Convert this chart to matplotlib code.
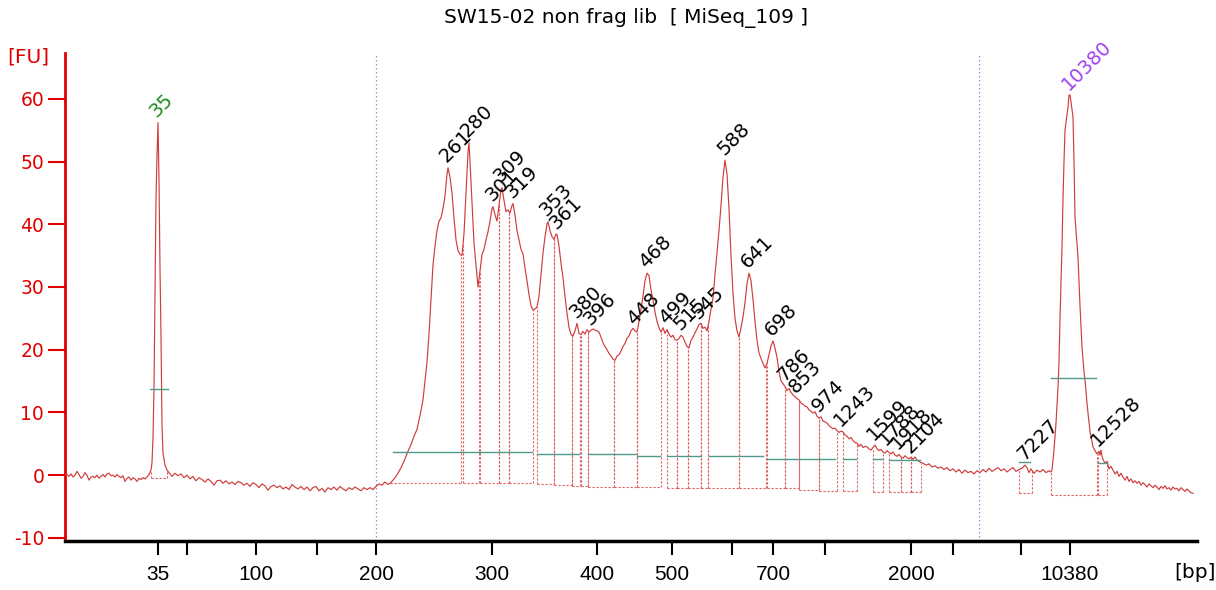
import numpy as np
import matplotlib
matplotlib.use("Agg")
import matplotlib.pyplot as plt

plt.rcParams['axes.unicode_minus'] = False

# ---------------- data (x = migration scan position, y = fluorescence FU) -------------
title = "SW15-02 non frag lib  [ MiSeq_109 ]"

ladder_bp = [35, 50, 100, 150, 200, 300, 400, 500, 600, 700, 1000, 2000, 3000, 7000, 10380]
ladder_pos = [158, 187, 256, 317, 376, 492, 597, 672, 732, 773, 825, 911, 953, 1021, 1070]
ladder_shown = [35, 100, 200, 300, 400, 500, 700, 2000, 10380]

region_bounds = [376, 979]

trace_baseline_left = [
    (65, 0.0), (67, 0.1), (69, -0.2), (71, 0.2), (73, -0.3), (75, 0.0), (77, 0.6), (79, 0.1),
    (81, -0.5), (83, -0.2), (85, 0.4), (87, 0.0), (89, -0.8), (91, -0.3), (93, -0.2), (95, -0.4),
    (97, 0.0), (99, -0.5), (101, -0.2), (103, 0.1), (105, -0.3), (107, 0.2), (109, 0.3), (111, -0.1),
    (113, 0.0), (115, -0.3), (117, 0.1), (119, -0.2), (121, -0.4), (123, -0.1), (125, -1.0), (127, -0.5),
    (129, -0.3), (131, -0.8), (133, -0.4), (135, -0.6), (137, -1.0), (139, -0.5), (141, -0.7), (143, -0.4),
    (145, -0.6), (147, -0.3), (149, 0.1),
]
trace_marker_low = [
    (151, 0.8), (152, 2.0), (153, 6.0), (154, 13.8), (155, 29.0), (156, 44.0), (157, 51.0), (158, 56.2),
    (159, 47.0), (160, 33.0), (161, 22.0), (162, 8.0), (163, 3.5), (164, 2.5), (165, 1.6), (167, 0.8),
]
trace_baseline_mid = [
    (169, 0.4), (172, -0.2), (175, 0.3), (178, -0.1), (181, 0.2), (184, -0.4), (187, 0.0), (190, -0.6),
    (193, -0.2), (196, -0.9), (199, -0.4), (202, -0.7), (205, -1.1), (208, -0.6), (211, -1.0), (214, -1.6),
    (217, -0.9), (220, -0.8), (223, -1.3), (226, -0.9), (229, -1.4), (232, -1.1), (235, -1.5), (238, -1.0),
    (241, -1.2), (244, -1.6), (247, -1.3), (250, -1.8), (253, -1.2), (256, -1.5), (259, -2.0), (262, -1.4),
    (265, -1.7), (268, -2.4), (271, -1.8), (274, -1.6), (277, -2.0), (280, -1.7), (283, -2.2), (286, -1.9),
    (289, -2.3), (292, -1.5), (295, -1.9), (298, -2.2), (301, -1.8), (304, -2.3), (307, -1.9), (310, -2.5),
    (313, -2.0), (316, -1.8), (319, -2.5), (322, -2.1), (325, -2.7), (328, -2.0), (331, -2.3), (334, -1.9),
    (337, -2.4), (340, -1.8), (343, -2.2), (346, -2.5), (349, -2.0), (352, -2.3), (355, -1.9), (358, -2.2),
    (361, -2.5), (364, -2.0), (367, -2.3), (370, -2.0), (373, -2.3), (376, -1.8), (379, -1.4), (382, -1.6),
    (385, -1.1), (388, -1.5),
]
trace_smear = [
    (390, -1.3), (393, -0.8), (396, -0.2), (399, 0.6), (402, 1.5), (405, 2.6), (408, 3.8), (411, 4.9),
    (414, 6.2), (417, 7.3), (420, 9.5), (423, 12.0), (425, 15.0), (427, 18.0), (429, 22.5), (431, 28.0),
    (433, 33.5), (435, 36.5), (437, 39.0), (439, 40.5), (441, 41.0), (443, 42.5), (445, 44.5), (447, 48.0),
    (448, 49.0), (450, 47.5), (452, 45.0), (454, 41.0), (456, 37.5), (458, 35.8), (460, 35.2), (462, 35.0),
    (464, 38.5), (466, 45.0), (468, 51.5), (469, 53.0), (470, 50.0), (472, 43.5), (474, 37.0), (476, 33.5),
    (478, 30.0), (480, 32.5), (482, 35.2), (484, 36.0), (486, 37.5), (488, 38.8), (490, 40.5), (492, 42.5),
    (493, 42.8), (495, 41.5), (497, 40.5), (499, 43.0), (501, 45.5), (502, 45.8), (504, 43.8), (506, 42.0),
    (508, 42.3), (510, 41.8), (512, 43.0), (513, 43.3), (515, 41.5), (517, 39.0), (519, 37.5), (521, 36.0),
    (523, 35.3), (525, 33.0), (527, 31.0), (529, 28.8), (531, 27.0), (533, 26.3), (535, 26.5), (537, 26.8),
    (539, 28.5), (541, 32.0), (543, 35.4), (545, 38.0), (547, 40.0), (548, 40.4), (550, 39.0), (552, 38.0),
    (554, 37.6), (556, 38.4), (557, 38.4), (559, 36.5), (561, 33.8), (563, 31.5), (565, 28.5), (567, 25.8),
    (569, 23.6), (571, 22.4), (573, 22.2), (575, 23.0), (577, 24.2), (579, 22.6), (581, 22.4), (583, 22.9),
    (585, 22.5), (587, 23.2), (589, 22.8), (591, 23.1), (593, 23.3), (595, 23.1), (597, 23.0), (599, 22.8),
    (601, 22.0), (603, 21.1), (605, 20.5), (607, 20.0), (609, 19.4), (611, 19.0), (613, 18.5), (615, 18.3),
    (617, 19.0), (619, 19.2), (621, 19.8), (623, 20.5), (625, 21.0), (627, 21.8), (629, 22.2), (631, 23.0),
    (633, 23.4), (635, 23.0), (637, 22.8), (639, 24.5), (641, 26.5), (643, 28.5), (645, 31.0), (647, 32.2),
    (649, 31.8), (651, 29.5), (653, 28.0), (655, 26.0), (657, 24.5), (659, 23.5), (661, 22.8), (663, 23.5),
    (665, 22.6), (667, 23.2), (669, 22.5), (671, 22.0), (673, 22.3), (675, 21.6), (677, 21.5), (679, 21.8),
    (681, 22.3), (683, 22.0), (685, 21.2), (687, 20.5), (689, 20.3), (691, 21.5), (693, 22.0), (695, 22.7),
    (697, 23.3), (699, 24.0), (701, 24.2), (703, 23.4), (705, 23.6), (707, 23.0), (709, 24.5), (711, 26.5),
    (713, 28.2), (715, 32.0), (717, 35.5), (719, 39.0), (721, 43.0), (723, 47.5), (725, 50.2), (727, 48.0),
    (729, 42.5), (731, 35.0), (733, 29.0), (735, 25.0), (737, 23.0), (739, 22.0), (741, 23.5), (743, 25.2),
    (745, 27.5), (747, 30.5), (749, 32.2), (751, 31.0), (753, 28.0), (755, 24.5), (757, 21.5), (759, 19.5),
    (761, 18.6), (763, 17.8), (765, 17.1), (767, 17.8), (769, 19.2), (771, 20.6), (773, 21.4), (775, 20.2),
    (777, 18.8), (779, 16.5), (781, 15.0), (783, 14.6), (785, 14.1), (787, 13.5), (789, 13.8), (791, 13.2),
    (793, 12.8), (795, 12.5), (797, 12.2), (799, 12.0), (801, 11.5), (803, 11.3), (805, 11.0), (807, 10.9),
    (809, 10.4), (811, 10.2), (813, 9.9), (815, 10.1), (817, 9.4), (819, 9.1), (821, 9.3), (823, 8.6),
    (825, 8.5), (827, 8.3), (829, 7.9), (831, 7.6), (833, 7.4), (835, 7.5), (837, 7.1), (839, 6.8),
    (841, 7.0), (843, 6.9), (845, 6.4), (847, 6.2), (849, 5.8), (851, 6.0), (853, 5.5), (855, 5.2),
    (857, 5.1), (859, 4.6), (861, 4.9), (863, 4.4), (865, 4.6), (867, 4.5), (869, 4.2), (871, 4.0),
    (873, 4.4), (875, 4.8), (877, 4.2), (879, 3.9), (881, 4.1), (883, 3.7), (885, 3.5), (887, 3.9),
    (889, 3.6), (891, 3.4), (893, 3.7), (895, 3.2), (897, 3.0), (899, 3.3), (901, 2.9), (903, 2.7),
    (905, 3.1), (907, 2.8), (909, 2.6), (911, 2.9), (913, 2.5), (915, 2.9), (917, 2.4), (919, 2.2),
    (921, 2.0),
]
trace_baseline_right = [
    (923, 1.9), (926, 1.6), (929, 1.8), (932, 1.3), (935, 1.5), (938, 1.1), (941, 1.3), (944, 0.9),
    (947, 1.2), (950, 0.7), (953, 1.0), (956, 0.5), (959, 0.9), (962, 0.3), (965, 0.8), (968, 0.4),
    (971, 0.6), (974, 0.2), (977, 0.7), (980, 0.4), (983, 0.9), (986, 0.5), (989, 1.1), (992, 0.6),
    (995, 0.9), (998, 1.2), (1001, 0.7), (1004, 1.0), (1007, 0.5), (1010, 0.9), (1013, 1.2), (1016, 0.6),
    (1019, 0.9), (1022, 1.1), (1025, 1.6), (1027, 1.2), (1029, 0.4), (1031, 1.0), (1034, 0.3), (1037, 0.8),
    (1040, 0.5), (1043, 0.9), (1046, 0.4), (1049, 0.7), (1051, 0.5),
]
trace_marker_high = [
    (1052, 0.8), (1054, 4.0), (1056, 8.3), (1058, 14.0), (1059, 17.9), (1060, 25.0), (1061, 31.0),
    (1062, 36.4), (1063, 44.0), (1064, 50.0), (1065, 55.0), (1067, 57.5), (1068, 58.7), (1069, 60.6),
    (1070, 60.6), (1071, 59.5), (1073, 57.1), (1074, 50.0), (1075, 41.1), (1077, 37.0), (1078, 34.8),
    (1080, 27.0), (1082, 20.4), (1084, 16.5), (1085, 15.2), (1087, 11.5), (1088, 9.9), (1090, 7.0),
    (1093, 4.5), (1095, 3.9), (1097, 3.4), (1099, 3.8), (1100, 3.2), (1101, 4.0), (1102, 3.0),
    (1103, 2.5), (1105, 1.9),
]
trace_tail = [
    (1107, 2.2), (1109, 1.0), (1111, 1.4), (1113, 0.8), (1115, 0.2), (1117, 0.6), (1119, -0.2),
    (1121, 0.3), (1123, -0.3), (1125, -0.8), (1127, -0.2), (1129, -1.0), (1131, -0.6), (1133, -1.2),
    (1135, -0.9), (1137, -1.3), (1139, -1.0), (1141, -1.6), (1143, -1.2), (1145, -1.5), (1147, -1.9),
    (1149, -1.4), (1151, -1.7), (1153, -2.0), (1155, -1.6), (1157, -1.9), (1159, -2.3), (1161, -1.8),
    (1163, -2.1), (1165, -1.7), (1167, -2.2), (1169, -2.0), (1171, -2.4), (1173, -1.9), (1175, -2.2),
    (1177, -2.1), (1179, -2.5), (1181, -2.0), (1183, -2.3), (1185, -2.6), (1187, -2.2), (1189, -2.5),
    (1191, -2.8), (1193, -2.9),
]

# peak table (integration limits and baseline level)
peak_start = [151, 390, 463, 480, 499, 509, 537, 554, 572, 581, 588, 614, 637, 667, 677, 688, 701, 708,
              739, 767, 785, 799, 819, 843, 873, 889, 901, 911, 1019, 1051, 1098]
peak_end = [167, 461, 479, 499, 509, 533, 554, 572, 580, 588, 614, 637, 661, 677, 688, 701, 708, 739,
            766, 785, 799, 819, 837, 857, 883, 901, 911, 921, 1032, 1097, 1107]
peak_base = [-0.5, -1.3, -1.3, -1.3, -1.3, -1.3, -1.4, -1.5, -1.7, -1.8, -1.9, -1.9, -1.9, -2.0, -2.0,
             -2.0, -2.0, -2.0, -2.1, -2.1, -2.1, -2.3, -2.5, -2.5, -2.7, -2.7, -2.7, -2.7, -2.9, -3.2, -3.2]

# peak size labels (apex position, called size)
label_pos = [158, 448, 469, 493, 502, 513, 548, 557, 577, 591, 635, 647, 667, 681, 700, 725, 749, 773,
             785, 797, 820, 842, 875, 887, 899, 912, 1025, 1070, 1099]
label_text = ['35', '261', '280', '301', '309', '319', '353', '361', '380', '396', '448', '468', '499',
              '515', '545', '588', '641', '698', '786', '853', '974', '1243', '1599', '1788', '1918',
              '2104', '7227', '10380', '12528']
label_kind = ['lower'] + ['sample'] * 26 + ['upper', 'sample']

# green horizontal marks (level FU, from, to)
mark_level = [13.8, 3.7, 3.35, 3.35, 3.0, 3.0, 3.0, 2.6, 2.6, 2.6, 2.4, 2.1, 15.5, 1.9]
mark_from = [150, 393, 537, 588, 637, 667, 709, 767, 843, 873, 889, 1019, 1051, 1098]
mark_to = [168, 532, 579, 636, 660, 701, 763, 835, 856, 883, 920, 1030, 1096, 1107]

# ---------------- drawing ---------------------------------------------------------------
trace = (trace_baseline_left + trace_marker_low + trace_baseline_mid + trace_smear
         + trace_baseline_right + trace_marker_high + trace_tail)
tx = np.array([p[0] for p in trace], dtype=float)
ty = np.array([p[1] for p in trace], dtype=float)

W, H = 1216, 590
fig = plt.figure(figsize=(W / 100, H / 100), dpi=100)
ax = fig.add_axes([65 / W, (H - 541) / H, (1197 - 65) / W, (541 - 53) / H])

RED = '#e00000'
TRACE = '#d03c3c'
DOT = '#e06060'
GREEN_MARK = '#4f9a8a'

ax.set_xlim(65, 1197)
ax.set_ylim(-10.5, 67.3)

# region boundaries
for xb in region_bounds:
    ax.axvline(xb, color='#9090d0', lw=0.9, ls=(0, (1.2, 2)), zorder=1)

# trace
ax.plot(tx, ty, color=TRACE, lw=0.85, zorder=3)

# peak integration limits
for s, e, b in zip(peak_start, peak_end, peak_base):
    ys = np.interp(s, tx, ty)
    ye = np.interp(e, tx, ty)
    ax.plot([s, s], [b, ys], color=DOT, lw=0.8, ls=(0, (2, 1.6)), zorder=2)
    ax.plot([e, e], [b, ye], color=DOT, lw=0.8, ls=(0, (2, 1.6)), zorder=2)
    ax.plot([s, e], [b, b], color=DOT, lw=0.8, ls=(0, (2, 1.6)), zorder=2)

# green marks
for lv, a, b in zip(mark_level, mark_from, mark_to):
    ax.plot([a, b], [lv, lv], color=GREEN_MARK, lw=1.0, zorder=4)

# peak labels
label_colors = {'lower': '#1e8c1e', 'upper': '#a040f0', 'sample': 'black'}
for xp, txt, kind in zip(label_pos, label_text, label_kind):
    yp = np.interp(xp, tx, ty)
    ax.text(xp - 1, yp + 0.7, txt, rotation=45, rotation_mode='anchor', ha='left', va='baseline',
            fontsize=14, color=label_colors[kind], zorder=5)

# axes styling
for side in ('top', 'right'):
    ax.spines[side].set_visible(False)
ax.spines['left'].set_color(RED)
ax.spines['left'].set_linewidth(2)
ax.spines['bottom'].set_color('black')
ax.spines['bottom'].set_linewidth(2.5)

ax.set_yticks([-10, 0, 10, 20, 30, 40, 50, 60])
ax.tick_params(axis='y', colors=RED, labelcolor=RED, length=12, width=1.5, labelsize=13.5, pad=3)
ax.set_xticks(ladder_pos)
ax.set_xticklabels([str(b) if b in ladder_shown else '' for b in ladder_bp])
ax.tick_params(axis='x', colors='black', length=10, width=1.5, pad=7)
for lab in ax.get_xticklabels():
    lab.set_family(['Liberation Sans', 'DejaVu Sans'])
    lab.set_fontsize(15)

fig.text(28 / W, 1 - 57 / H, '[FU]', color=RED, fontsize=14.5, ha='center', va='center')
fig.text(1195 / W, 1 - 572 / H, '[bp]', color='black', fontsize=14.5, ha='center', va='center')
fig.text(626 / W, 1 - 18 / H, title, color='black', fontsize=14.5, ha='center', va='center')

fig.savefig('out.png', dpi=100)
